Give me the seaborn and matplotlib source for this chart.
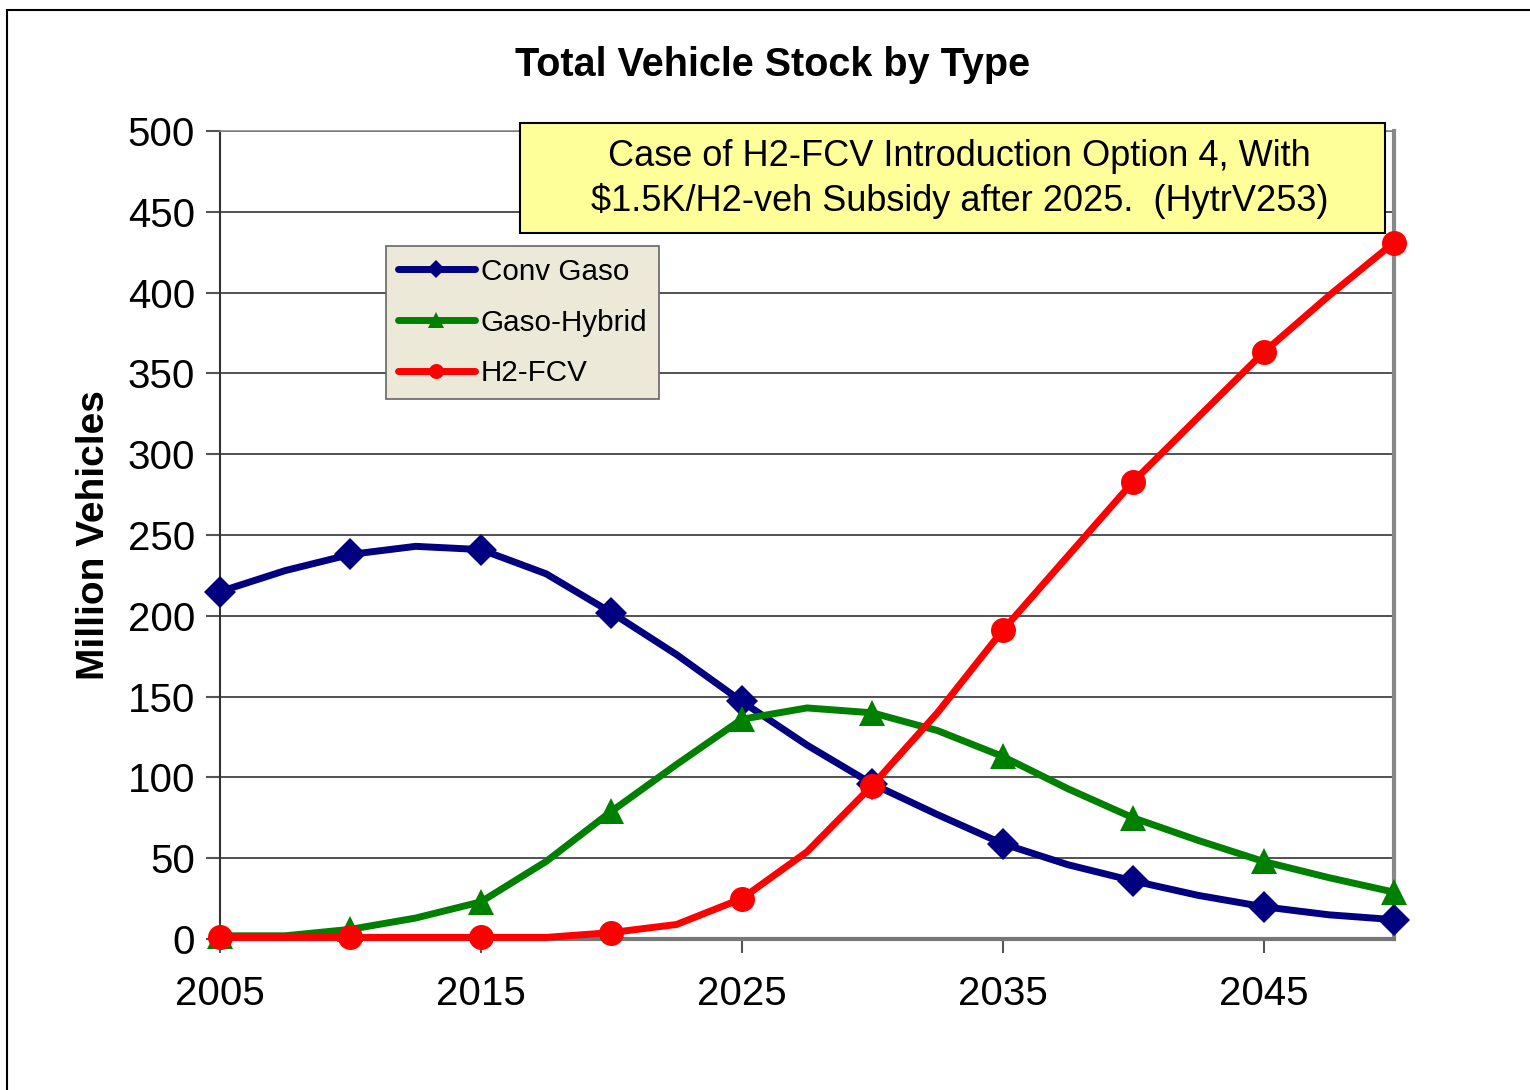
import pandas as pd
import matplotlib.pyplot as plt
import seaborn as sns
from matplotlib.patches import Rectangle

# data (million vehicles), every 2.5 years
years = [2005, 2007.5, 2010, 2012.5, 2015, 2017.5, 2020, 2022.5, 2025, 2027.5,
         2030, 2032.5, 2035, 2037.5, 2040, 2042.5, 2045, 2047.5, 2050]
conv_gaso = [215, 228, 238, 243, 241, 226, 202, 176, 147, 120,
             96, 77, 59, 46, 36, 27, 20, 15, 12]
gaso_hybrid = [2, 2, 6, 13, 23, 48, 79, 108, 136, 143,
               140, 129, 113, 93, 75, 61, 48, 38, 29]
h2_fcv = [1, 1, 1, 1, 1, 1, 4, 9, 25, 54,
          95, 140, 191, 237, 283, 323, 363, 398, 431]
x_ticks = [2005, 2015, 2025, 2035, 2045]

series = [
    ("Conv Gaso", conv_gaso, "#000080", "D", 16),
    ("Gaso-Hybrid", gaso_hybrid, "#008000", "^", 19),
    ("H2-FCV", h2_fcv, "#FF0000", "o", 18),
]

sns.set_style("white")
plt.rcParams['font.family'] = ['Liberation Sans', 'DejaVu Sans']
plt.rcParams['text.color'] = 'black'
plt.rcParams['axes.labelcolor'] = 'black'
plt.rcParams['xtick.color'] = 'black'
plt.rcParams['ytick.color'] = 'black'

fig = plt.figure(figsize=(15.3, 10.9), dpi=100)
ax = fig.add_axes([0.1438, 0.1385, 0.9111 - 0.1438, 0.8798 - 0.1385])

for name, vals, color, marker, ms in series:
    df = pd.DataFrame({"year": years, "value": vals})
    sns.lineplot(data=df, x="year", y="value", ax=ax, color=color, lw=5,
                 marker=marker, markersize=ms, markeredgewidth=0,
                 markevery=list(range(0, len(years), 2)), label=name,
                 clip_on=False, zorder=5)

ax.set_xlim(2005, 2050)
ax.set_ylim(0, 500)
ax.set_yticks(range(0, 501, 50))
ax.set_xticks(x_ticks)
ax.tick_params(axis='both', labelsize=29, direction='out', length=10, width=1.5,
               left=True, bottom=True, color='#555555', labelcolor='black')
ax.tick_params(axis='x', pad=16)
ax.tick_params(axis='y', pad=8)
ax.yaxis.grid(True, color='#333333', lw=1.2)
ax.set_axisbelow(True)
ax.set_xlabel("")
ax.set_ylabel("Million Vehicles", fontsize=28, fontweight='bold', labelpad=11)

for side in ['left', 'bottom', 'right', 'top']:
    ax.spines[side].set_visible(True)
ax.spines['left'].set_color('#333333')
ax.spines['left'].set_linewidth(1.5)
ax.spines['bottom'].set_color('#777777')
ax.spines['bottom'].set_linewidth(3)
ax.spines['right'].set_color('#888888')
ax.spines['right'].set_linewidth(3)
ax.spines['top'].set_color('#888888')
ax.spines['top'].set_linewidth(1.2)

fig.text(0.505, 0.94, "Total Vehicle Stock by Type", ha='center', va='center',
         fontsize=28.5, fontweight='bold')

# yellow note box
ax.add_patch(Rectangle((0.2555, 0.8738), 0.9923 - 0.2555, 1.0099 - 0.8738,
                       transform=ax.transAxes, facecolor='#FFFF99', edgecolor='black',
                       lw=1.5, clip_on=False, zorder=9))
ax.text(0.630, 0.9405,
        "Case of H2-FCV Introduction Option 4, With\n$1.5K/H2-veh Subsidy after 2025.  (HytrV253)",
        transform=ax.transAxes, ha='center', va='center', fontsize=26,
        linespacing=1.3, zorder=10)

leg = ax.legend(loc='upper left', bbox_to_anchor=(0.1414, 0.8577), fontsize=21.3,
                frameon=True, fancybox=False, handlelength=2.6, handletextpad=0.2,
                borderpad=0.4, labelspacing=0.77, numpoints=1, markerscale=0.6,
                borderaxespad=0)
leg.get_frame().set_facecolor('#ECE9D8')
leg.get_frame().set_edgecolor('#666666')
leg.get_frame().set_linewidth(1.2)
leg.get_frame().set_alpha(1)
leg.set_zorder(10)

# slide frame around the chart
fig.patches.append(Rectangle((0.0046, -0.01), 1.1, 1.0008, transform=fig.transFigure,
                             fill=False, edgecolor='black', lw=1.5))

fig.savefig("out.png", dpi=100)
